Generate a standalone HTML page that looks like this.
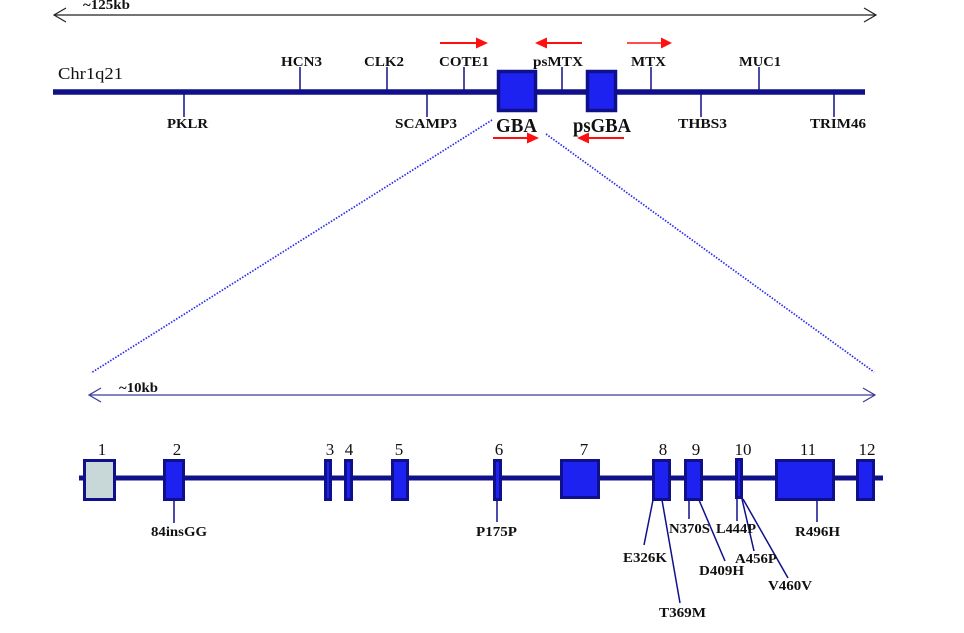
<!DOCTYPE html>
<html><head><meta charset="utf-8"><style>
html,body{margin:0;padding:0;background:#fff;}
svg{display:block;}
text{font-family:"Liberation Serif",serif;}
.b{font-weight:bold;font-size:14px;fill:#111;}
.n{font-size:17px;fill:#111;}
</style></head><body>
<svg width="964" height="633" viewBox="0 0 964 633" xmlns="http://www.w3.org/2000/svg">
<!-- top scale arrow -->
<line x1="54" y1="15" x2="876" y2="15" stroke="#222" stroke-width="1.2"/>
<polyline points="66,8 54,15 66,22" fill="none" stroke="#222" stroke-width="1.2"/>
<polyline points="864,8 876,15 864,22" fill="none" stroke="#222" stroke-width="1.2"/>
<text class="b" x="83" y="9" textLength="47" lengthAdjust="spacingAndGlyphs">~125kb</text>

<!-- chromosome line -->
<line x1="53" y1="92" x2="865" y2="92" stroke="#10108a" stroke-width="5.5"/>
<text x="58" y="79" font-size="17" fill="#111" textLength="65" lengthAdjust="spacingAndGlyphs">Chr1q21</text>
<g stroke="#10108a" stroke-width="1.5">
<line x1="300" y1="67" x2="300" y2="92"/>
<line x1="387" y1="67" x2="387" y2="92"/>
<line x1="464" y1="67" x2="464" y2="92"/>
<line x1="562" y1="67" x2="562" y2="92"/>
<line x1="651" y1="67" x2="651" y2="92"/>
<line x1="759" y1="67" x2="759" y2="92"/>
<line x1="184" y1="92" x2="184" y2="117"/>
<line x1="427" y1="92" x2="427" y2="117"/>
<line x1="701" y1="92" x2="701" y2="117"/>
<line x1="834" y1="92" x2="834" y2="117"/>
</g>
<text class="b" x="281" y="66" textLength="41" lengthAdjust="spacingAndGlyphs">HCN3</text>
<text class="b" x="364" y="66" textLength="40" lengthAdjust="spacingAndGlyphs">CLK2</text>
<text class="b" x="439" y="66" textLength="50" lengthAdjust="spacingAndGlyphs">COTE1</text>
<text class="b" x="533" y="66" textLength="50" lengthAdjust="spacingAndGlyphs">psMTX</text>
<text class="b" x="631" y="66" textLength="35" lengthAdjust="spacingAndGlyphs">MTX</text>
<text class="b" x="739" y="66" textLength="42" lengthAdjust="spacingAndGlyphs">MUC1</text>
<text class="b" x="167" y="128" textLength="41" lengthAdjust="spacingAndGlyphs">PKLR</text>
<text class="b" x="395" y="128" textLength="62" lengthAdjust="spacingAndGlyphs">SCAMP3</text>
<text class="b" x="678" y="128" textLength="49" lengthAdjust="spacingAndGlyphs">THBS3</text>
<text class="b" x="810" y="128" textLength="56" lengthAdjust="spacingAndGlyphs">TRIM46</text>

<!-- GBA / psGBA boxes -->
<rect x="498.5" y="71.5" width="37" height="39" fill="#1e22f0" stroke="#10108a" stroke-width="3.5"/>
<rect x="587.5" y="71.5" width="28" height="39" fill="#1e22f0" stroke="#10108a" stroke-width="3.5"/>
<text x="496" y="132" font-size="20" font-weight="bold" fill="#111" textLength="41" lengthAdjust="spacingAndGlyphs">GBA</text>
<text x="573" y="132" font-size="20" font-weight="bold" fill="#111" textLength="58" lengthAdjust="spacingAndGlyphs">psGBA</text>

<!-- red arrows -->
<g stroke="#ff1010" stroke-width="2" fill="#ff1010">
<line x1="440" y1="43" x2="478" y2="43"/><polygon points="488,43 476,37.5 476,48.5" stroke="none"/>
<line x1="582" y1="43" x2="545" y2="43"/><polygon points="535,43 547,37.5 547,48.5" stroke="none"/>
<line x1="627" y1="43" x2="663" y2="43" stroke-width="1.4"/><polygon points="672,43 661,37.5 661,48.5" stroke="none"/>
<line x1="493" y1="138" x2="530" y2="138"/><polygon points="539,138 527,132.5 527,143.5" stroke="none"/>
<line x1="624" y1="138" x2="587" y2="138"/><polygon points="577,138 589,132.5 589,143.5" stroke="none"/>
</g>

<!-- dotted zoom lines -->
<line x1="492" y1="120" x2="91" y2="373" stroke="#2a2af0" stroke-width="1.7" stroke-dasharray="1.5,1.5"/>
<line x1="546" y1="134" x2="874" y2="372" stroke="#2a2af0" stroke-width="1.7" stroke-dasharray="1.5,1.5"/>

<!-- lower scale arrow -->
<line x1="89" y1="395" x2="875" y2="395" stroke="#3a3a9a" stroke-width="1.2"/>
<polyline points="101,388 89,395 101,402" fill="none" stroke="#3a3a9a" stroke-width="1.2"/>
<polyline points="863,388 875,395 863,402" fill="none" stroke="#3a3a9a" stroke-width="1.2"/>
<text class="b" x="119" y="392" textLength="39" lengthAdjust="spacingAndGlyphs">~10kb</text>

<!-- gene line -->
<line x1="79" y1="478" x2="883" y2="478" stroke="#10108a" stroke-width="5"/>
<g stroke="#10108a" stroke-width="3" fill="#1e22f0">
<rect x="84.5" y="460.5" width="30" height="39" fill="#c8d8d8"/>
<rect x="164.5" y="460.5" width="19" height="39"/>
<rect x="325.5" y="460.5" width="5" height="39"/>
<rect x="345.5" y="460.5" width="6" height="39"/>
<rect x="392.5" y="460.5" width="15" height="39"/>
<rect x="494.5" y="460.5" width="6" height="39"/>
<rect x="561.5" y="460.5" width="37" height="37"/>
<rect x="653.5" y="460.5" width="16" height="39"/>
<rect x="685.5" y="460.5" width="16" height="39"/>
<rect x="736.5" y="459.5" width="5" height="38"/>
<rect x="776.5" y="460.5" width="57" height="39"/>
<rect x="857.5" y="460.5" width="16" height="39"/>
</g>
<g class="n" text-anchor="middle">
<text x="102" y="455">1</text>
<text x="177" y="455">2</text>
<text x="330" y="455">3</text>
<text x="349" y="455">4</text>
<text x="399" y="455">5</text>
<text x="499" y="455">6</text>
<text x="584" y="455">7</text>
<text x="663" y="455">8</text>
<text x="696" y="455">9</text>
<text x="743" y="455">10</text>
<text x="808" y="455">11</text>
<text x="867" y="455">12</text>
</g>

<!-- mutation lines -->
<g stroke="#10108a" stroke-width="1.5">
<line x1="174" y1="501" x2="174" y2="523"/>
<line x1="497" y1="501" x2="497" y2="522"/>
<line x1="653" y1="500" x2="644" y2="545"/>
<line x1="662" y1="500" x2="680" y2="603"/>
<line x1="689" y1="500" x2="689" y2="519"/>
<line x1="699" y1="500" x2="725" y2="561"/>
<line x1="737" y1="499" x2="737" y2="521"/>
<line x1="742" y1="499" x2="754" y2="551"/>
<line x1="743" y1="499" x2="788" y2="578"/>
<line x1="817" y1="501" x2="817" y2="522"/>
</g>
<text class="b" x="151" y="536" textLength="56" lengthAdjust="spacingAndGlyphs">84insGG</text>
<text class="b" x="476" y="536" textLength="41" lengthAdjust="spacingAndGlyphs">P175P</text>
<text class="b" x="623" y="562" textLength="44" lengthAdjust="spacingAndGlyphs">E326K</text>
<text class="b" x="659" y="617" textLength="47" lengthAdjust="spacingAndGlyphs">T369M</text>
<text class="b" x="669" y="533" textLength="41" lengthAdjust="spacingAndGlyphs">N370S</text>
<text class="b" x="716" y="533" textLength="40" lengthAdjust="spacingAndGlyphs">L444P</text>
<text class="b" x="699" y="575" textLength="45" lengthAdjust="spacingAndGlyphs">D409H</text>
<text class="b" x="735" y="563" textLength="42" lengthAdjust="spacingAndGlyphs">A456P</text>
<text class="b" x="768" y="590" textLength="44" lengthAdjust="spacingAndGlyphs">V460V</text>
<text class="b" x="795" y="536" textLength="45" lengthAdjust="spacingAndGlyphs">R496H</text>
</svg>
</body></html>
